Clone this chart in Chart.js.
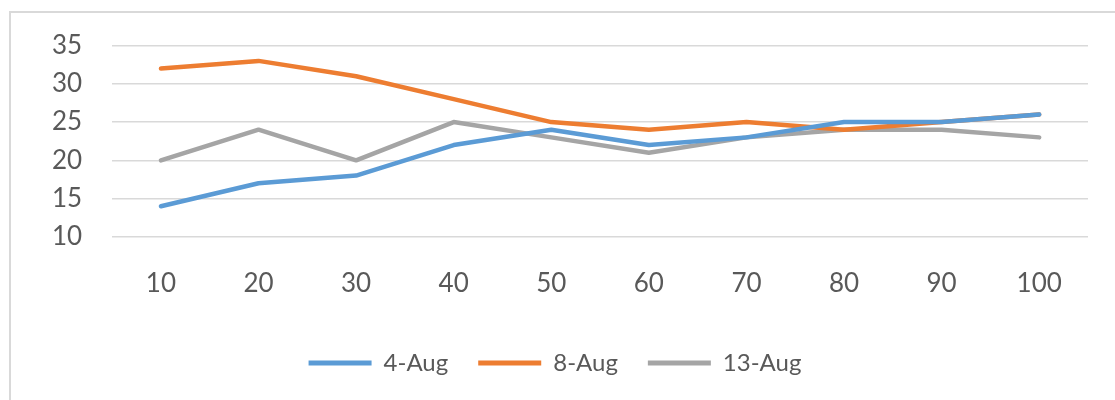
<!DOCTYPE html>
<html>
<head>
<meta charset="utf-8">
<script src="https://cdn.jsdelivr.net/npm/chart.js@4/dist/chart.umd.min.js"></script>
<style>
  html, body { margin: 0; padding: 0; background: #ffffff; overflow: hidden; }
  #frame {
    position: absolute; left: 9px; top: 11px; width: 1200px; height: 500px;
    border-left: 2px solid #d9d9d9; border-top: 2px solid #d9d9d9;
  }
  #wrap { position: absolute; left: 0; top: 0; width: 1115px; height: 400px; }
</style>
</head>
<body>
<div id="frame"></div>
<div id="wrap"><canvas id="chart" width="1115" height="400"></canvas></div>
<script>
// Category axis (x) and series values
const categories = ['10', '20', '30', '40', '50', '60', '70', '80', '90', '100'];
const aug4  = [14, 17, 18, 22, 24, 22, 23, 25, 25, 26];
const aug8  = [32, 33, 31, 28, 25, 24, 25, 24, 25, 26];
const aug13 = [20, 24, 20, 25, 23, 21, 23, 24, 24, 23];
const seriesNames = ['4-Aug', '8-Aug', '13-Aug'];
const seriesColors = ['#5B9BD5', '#ED7D31', '#A5A5A5'];

const textColor = '#595959';
const fontFamily = 'Lato, "Open Sans", sans-serif';

const values = [aug4, aug8, aug13];
const datasets = values.map((v, i) => ({
  label: seriesNames[i],
  data: v,
  borderColor: seriesColors[i],
  backgroundColor: seriesColors[i],
  borderWidth: 4.5,
  pointRadius: 0,
  tension: 0,
  borderJoinStyle: 'round',
  borderCapStyle: 'round',
  fill: false
}));

new Chart(document.getElementById('chart'), {
  type: 'line',
  data: { labels: categories, datasets },
  options: {
    responsive: false,
    animation: false,
    events: [],
    layout: { padding: { left: 22, right: 27, top: 38, bottom: 15 } },
    plugins: {
      tooltip: { enabled: false },
      legend: {
        position: 'bottom',
        labels: {
          color: textColor,
          font: { family: fontFamily, size: 24 },
          boxWidth: 63,
          boxHeight: 5,
          padding: 30,
          generateLabels(chart) {
            return chart.data.datasets.map((ds, i) => ({
              text: ds.label,
              fillStyle: ds.borderColor,
              strokeStyle: ds.borderColor,
              lineWidth: 0,
              fontColor: textColor,
              datasetIndex: i
            }));
          }
        }
      }
    },
    scales: {
      x: {
        offset: true,
        grid: { display: false, drawTicks: false },
        border: { display: false },
        ticks: {
          color: textColor,
          font: { family: fontFamily, size: 26 },
          padding: 31,
          maxRotation: 0
        },
        // let the labels sit closer to the legend
        afterFit(scale) { scale.height -= 9; }
      },
      y: {
        min: 10,
        max: 35,
        grid: { color: '#d9d9d9', lineWidth: 1.5, drawTicks: false },
        border: { display: false },
        ticks: {
          stepSize: 5,
          color: textColor,
          font: { family: fontFamily, size: 26 },
          padding: 30
        }
      }
    }
  }
});
</script>
</body>
</html>
